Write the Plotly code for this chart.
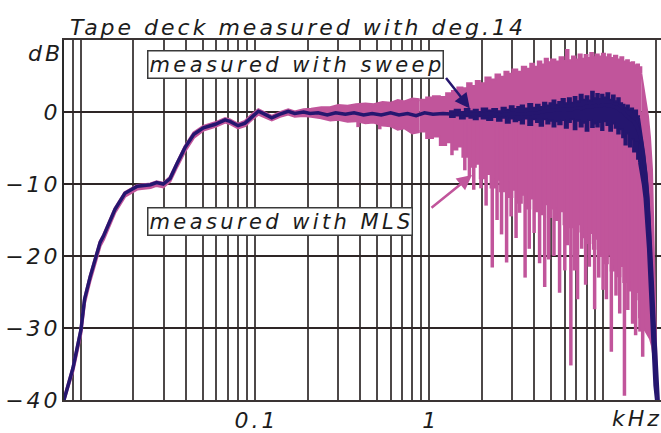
import math
import plotly.graph_objects as go

# Tape deck frequency response: sine sweep vs. MLS measurement (deg.14)

# --- sweep measurement, centre of the trace (kHz, dB) ---
sweep_khz = [
    0.008, 0.009, 0.010, 0.0105, 0.0113, 0.0129, 0.0135, 0.0157, 0.0179, 0.0211,
    0.0251, 0.0272, 0.0297, 0.0325, 0.0356, 0.0396, 0.0445, 0.0505, 0.0591, 0.0673,
    0.0717, 0.0799, 0.0876, 0.0958, 0.1045, 0.1113, 0.1247, 0.139, 0.155, 0.169,
    0.19, 0.207, 0.23, 0.26, 0.29, 0.33, 0.37, 0.42, 0.47, 0.53,
    0.60, 0.67, 0.75, 0.84, 0.94, 1.05, 1.2, 1.4, 1.6, 1.8,
    2.0, 2.3, 2.6, 3.0, 3.4, 3.8, 4.2, 4.6, 5.0, 5.5,
    6.0, 6.5, 7.0, 7.5, 8.0, 8.5, 9.0, 9.5, 10.0, 10.5,
    11.0, 11.5, 12.0, 12.5, 13.0, 13.5, 14.0, 14.5, 15.0, 15.5,
    16.0, 16.5, 17.0, 17.5, 18.0, 18.5, 19.0, 19.5, 20.0, 20.6,
]
sweep_db = [
    -40.0, -35.6, -30.3, -26.0, -22.9, -18.1, -17.2, -13.5, -11.3, -10.3,
    -10.1, -9.8, -10.0, -9.25, -7.2, -4.95, -3.1, -2.2, -1.7, -1.1,
    -1.3, -1.9, -1.55, -0.65, 0.1, -0.2, -0.8, -0.3, 0.1, -0.2,
    0.0, -0.2, -0.1, -0.4, -0.1, -0.3, -0.1, -0.4, -0.2, -0.4,
    -0.1, -0.4, -0.2, -0.5, -0.1, -0.3, -0.2, -0.3, -0.2, -0.3,
    -0.3, -0.2, -0.4, -0.2, -0.3, -0.2, -0.1, 0.1, 0.2, 0.3,
    0.4, 0.3, 0.6, 0.5, 0.8, 0.7, 0.9, 0.8, 1.0, 0.9,
    0.9, 0.7, 0.6, 0.2, 0.0, -0.5, -0.8, -1.0, -1.4, -2.0,
    -2.8, -4.0, -6.0, -8.5, -12.0, -17.0, -23.0, -29.0, -34.0, -40.0,
]

# --- spread of the sweep trace above 1 kHz (top / bottom, dB) ---
spread_khz = [
    1.3, 1.4, 1.5, 1.6, 1.7, 1.8, 1.9, 2.0, 2.15, 2.3,
    2.45, 2.6, 2.75, 2.9, 3.05, 3.2, 3.35, 3.5, 3.7, 3.9,
    4.1, 4.3, 4.5, 4.7, 4.9, 5.1, 5.3, 5.5, 5.75, 6.0,
    6.25, 6.5, 6.75, 7.0, 7.3, 7.6, 7.9, 8.2, 8.5, 8.8,
    9.1, 9.4, 9.7, 10.0, 10.4, 10.8, 11.2, 11.6, 12.0, 12.4,
    12.8, 13.2, 13.6, 14.0, 14.4, 14.8, 15.2, 15.6, 16.0, 16.4,
    16.8, 17.2, 17.6, 18.0, 18.4, 18.8, 19.2, 19.6, 20.0,
]
spread_top = [
    0.1, 0.3, 0.0, 0.4, 0.1, 0.3, 0.0, 0.5, 0.2, 0.4,
    0.1, 0.6, 0.3, 0.8, 0.4, 0.7, 0.9, 0.5, 1.1, 0.6,
    1.0, 0.7, 1.3, 0.9, 1.2, 1.6, 1.0, 1.4, 1.8, 1.2,
    1.9, 1.3, 2.1, 1.5, 2.4, 1.7, 2.2, 1.6, 2.8, 1.9,
    2.5, 1.8, 2.4, 2.0, 2.6, 1.7, 2.3, 1.5, 1.9, 1.2,
    1.0, 0.6, 0.9, 0.3, 0.5, 0.0, 0.2, -0.6, -0.8, -2.5,
    -4.0, -6.0, -8.5, -11.0, -15.0, -20.0, -26.0, -32.0, -38.0,
]
spread_bottom = [
    -0.7, -0.5, -0.9, -0.6, -0.8, -1.0, -0.6, -0.9, -1.1, -0.7,
    -1.2, -0.8, -1.5, -0.9, -1.3, -1.1, -1.6, -0.9, -1.8, -1.0,
    -1.4, -1.9, -1.0, -1.6, -1.2, -2.0, -1.3, -1.7, -1.1, -2.2,
    -1.4, -1.0, -2.4, -1.2, -2.0, -1.5, -2.6, -1.1, -2.1, -1.6,
    -2.0, -1.4, -2.5, -1.3, -1.8, -2.6, -1.6, -2.2, -3.0, -2.4,
    -3.5, -4.5, -3.0, -4.8, -3.8, -5.5, -4.2, -6.5, -7.0, -8.5,
    -10.0, -12.0, -15.0, -19.0, -24.0, -29.0, -34.0, -38.0, -40.0,
]

# --- MLS measurement: upper / lower envelope of the ragged trace ---
mls_khz = [
    0.008, 0.009, 0.010, 0.0105, 0.0113, 0.0129, 0.0135, 0.0157, 0.0179, 0.0211,
    0.0251, 0.0272, 0.0297, 0.0325, 0.0356, 0.0396, 0.0445, 0.0505, 0.0591, 0.0673,
    0.0717, 0.0799, 0.0876, 0.0958, 0.1045, 0.1113, 0.1247, 0.139, 0.155, 0.169,
    0.19, 0.21, 0.24, 0.27, 0.30, 0.34, 0.38, 0.43, 0.48, 0.54,
    0.60, 0.66, 0.72, 0.80, 0.88, 0.96, 1.05, 1.15, 1.25, 1.35,
    1.45, 1.55, 1.65, 1.75, 1.85, 1.95, 2.1, 2.25, 2.4, 2.55,
    2.7, 2.85, 3.0, 3.2, 3.4, 3.6, 3.8, 4.0, 4.2, 4.4,
    4.6, 4.8, 5.0, 5.3, 5.6, 5.9, 6.1, 6.3, 6.6, 6.9,
    7.2, 7.5, 7.8, 8.1, 8.4, 8.7, 9.0, 9.4, 9.8, 10.2,
    10.6, 11.0, 11.5, 12.0, 12.5, 13.0, 13.5, 14.0, 14.5, 15.0,
    15.5, 16.0, 16.5, 17.0, 17.5, 18.0, 18.5, 19.0, 19.5, 20.0,
    20.4,
]
mls_hi = [
    -39.8, -35.5, -30.2, -25.9, -22.8, -18.0, -17.1, -13.4, -11.2, -10.2,
    -10.0, -9.7, -9.9, -9.1, -7.1, -4.8, -2.9, -2.0, -1.5, -0.9,
    -1.1, -1.7, -1.3, -0.4, 0.3, 0.0, -0.6, -0.1, 0.3, 0.0,
    0.3, 0.4, 0.6, 0.6, 0.9, 0.8, 1.0, 1.1, 1.0, 1.3,
    1.2, 1.6, 1.4, 1.8, 1.7, 2.0, 2.2, 2.1, 2.6, 2.9,
    3.4, 3.3, 4.0, 3.6, 4.3, 4.0, 4.8, 4.5, 5.2, 4.9,
    5.6, 5.3, 5.9, 5.6, 6.3, 6.0, 6.7, 6.3, 7.0, 6.6,
    7.4, 6.9, 7.3, 7.0, 7.6, 7.1, 8.6, 7.2, 7.7, 7.3,
    8.0, 7.4, 7.9, 7.5, 8.2, 7.6, 8.0, 7.7, 8.1, 7.6,
    8.0, 7.5, 7.8, 7.3, 7.6, 7.0, 7.2, 6.8, 6.9, 6.5,
    6.6, 6.2, 5.3, 3.5, 1.5, -0.5, -3.5, -8.0, -20.0, -32.0,
    -40.0,
]
mls_lo = [
    -40.0, -36.0, -30.8, -26.5, -23.4, -18.6, -17.7, -13.9, -11.7, -10.7,
    -10.5, -10.2, -10.4, -9.6, -7.6, -5.4, -3.5, -2.5, -2.0, -1.4,
    -1.6, -2.2, -1.9, -1.0, -0.3, -0.6, -1.1, -0.6, -0.3, -0.6,
    -0.5, -0.6, -0.8, -1.1, -1.0, -1.3, -1.2, -1.5, -1.4, -1.8,
    -1.9, -2.4, -2.2, -2.9, -2.7, -3.6, -3.4, -4.6, -4.2, -5.2,
    -4.8, -6.2, -6.0, -7.6, -7.2, -9.2, -8.6, -10.5, -9.4, -11.0,
    -9.8, -11.8, -10.8, -12.6, -11.5, -13.4, -12.0, -13.8, -12.5, -14.2,
    -12.8, -14.6, -13.4, -15.0, -13.8, -15.6, -14.2, -16.0, -14.6, -16.6,
    -15.6, -17.4, -16.2, -18.2, -16.8, -19.0, -17.6, -20.0, -18.8, -21.0,
    -19.8, -22.0, -20.6, -22.8, -21.4, -23.6, -22.4, -24.8, -23.6, -26.0,
    -25.0, -28.5, -29.0, -30.0, -30.5, -31.0, -31.5, -32.5, -34.5, -37.5,
    -40.0,
]

# deep notches of the MLS trace (kHz, dB at the bottom of each notch)
dip_khz = [
    0.39, 0.52, 1.35, 1.60, 1.70, 1.80, 1.98, 2.12, 2.30, 2.45,
    2.60, 2.78, 2.95, 3.15, 3.30, 3.55, 3.75, 4.00, 4.30, 4.60,
    4.85, 5.20, 5.60, 6.00, 6.20, 6.50, 6.80, 7.10, 7.50, 7.90,
    8.30, 8.90, 9.40, 9.95, 10.4, 11.1, 11.8, 12.4, 13.2, 13.8,
    14.7, 15.3, 16.2, 16.8,
]
dip_db = [
    -2.1, -2.4, -6.0, -8.1, -9.0, -10.8, -10.6, -13.0, -21.6, -15.0,
    -17.0, -20.9, -14.5, -17.5, -14.0, -23.0, -19.0, -16.8, -21.0, -24.3,
    -20.5, -20.0, -25.1, -22.0, -18.5, -35.2, -22.0, -26.0, -19.0, -24.0,
    -21.5, -27.4, -23.0, -24.7, -26.0, -33.3, -25.5, -28.0, -39.4, -27.5,
    -29.4, -31.0, -30.5, -34.0,
]

# axis grid and labels
x_grid = [0.009, 0.01, 0.02, 0.03, 0.04, 0.05, 0.06, 0.07, 0.08, 0.09,
          0.1, 0.2, 0.3, 0.4, 0.5, 0.6, 0.7, 0.8, 0.9,
          1, 2, 3, 4, 5, 6, 7, 8, 9, 10, 20]
x_labels = {0.1: "0.1", 1: "1"}
y_ticks = [-40, -30, -20, -10, 0, 10]
y_labels = ["\u221240", "\u221230", "\u221220", "\u221210", "0", ""]

NAVY = "#25166f"
PINK = "#c1559b"
INK = "#1c1c1c"
FONT = "DejaVu Sans"


def spaced(s, px=3):
    # letter spacing between characters, none after the last one
    if len(s) < 2:
        return s
    return '<span style="letter-spacing:%spx">%s</span>%s' % (px, s[:-1], s[-1])


def add_band(fig, x, lo, hi, color, shape, width):
    # filled region between two edges
    fig.add_trace(go.Scatter(x=x, y=lo, mode="lines", line_shape=shape,
                             line=dict(color=color, width=width), hoverinfo="skip"))
    fig.add_trace(go.Scatter(x=x, y=hi, mode="lines", line_shape=shape,
                             fill="tonexty", fillcolor=color,
                             line=dict(color=color, width=width), hoverinfo="skip"))


fig = go.Figure()

# MLS band: smooth at low frequencies, ragged steps above ~0.9 kHz
a = mls_khz.index(0.88)
b = mls_khz.index(16.5)
add_band(fig, mls_khz[:a + 1], mls_lo[:a + 1], mls_hi[:a + 1], PINK, "linear", 3)
add_band(fig, mls_khz[a:b + 1], mls_lo[a:b + 1], mls_hi[a:b + 1], PINK, "hv", 2)
add_band(fig, mls_khz[b:], mls_lo[b:], mls_hi[b:], PINK, "linear", 2)

# MLS notches as vertical strokes
nx, ny = [], []
for f, d in zip(dip_khz, dip_db):
    nx += [f, f, None]
    ny += [0, d, None]
fig.add_trace(go.Scatter(x=nx, y=ny, mode="lines",
                         line=dict(color=PINK, width=3.5), hoverinfo="skip"))

# sweep trace: ragged spread at high frequencies, then the centre line
c = spread_khz.index(16.0)
add_band(fig, spread_khz[:c + 1], spread_bottom[:c + 1], spread_top[:c + 1],
         NAVY, "hv", 2)
add_band(fig, spread_khz[c:], spread_bottom[c:], spread_top[c:], NAVY, "linear", 2)
fig.add_trace(go.Scatter(x=sweep_khz, y=sweep_db, mode="lines",
                         line=dict(color=NAVY, width=3.5), hoverinfo="skip"))

tick_font = dict(family=FONT, size=22, color=INK, style="italic")
label_font = dict(family=FONT, size=21, color=INK, style="italic")

annotations = [
    dict(text=spaced("Tape deck measured with deg.14"), xref="paper", yref="paper",
         x=0.006, y=1.035, xanchor="left", yanchor="middle", showarrow=False,
         font=tick_font),
    dict(text=spaced("dB"), xref="paper", yref="paper", x=-0.003, y=0.962,
         xanchor="right", yanchor="middle", showarrow=False, font=tick_font),
    dict(text=spaced("kHz"), xref="paper", yref="paper", x=1.0, y=-0.012,
         xanchor="right", yanchor="top", showarrow=False, font=tick_font),
    # legend boxes
    dict(text=spaced("measured with sweep", 3.4), xref="paper", yref="paper",
         x=0.1385, y=0.931, xanchor="left", yanchor="middle", showarrow=False,
         font=label_font, bgcolor="white", bordercolor="#3a3a3a",
         borderwidth=1.5, borderpad=1),
    dict(text=spaced("measured with MLS", 3.4), xref="paper", yref="paper",
         x=0.1385, y=0.497, xanchor="left", yanchor="middle", showarrow=False,
         font=label_font, bgcolor="white", bordercolor="#3a3a3a",
         borderwidth=1.5, borderpad=1),
    # pointers from the boxes to the traces
    dict(text="", x=math.log10(1.71), y=0.5, xref="x", yref="y",
         ax=-25, ay=-32, showarrow=True, arrowhead=2, arrowsize=1.2,
         arrowwidth=2.5, arrowcolor=NAVY),
    dict(text="", x=math.log10(1.76), y=-8.75, xref="x", yref="y",
         ax=-42, ay=34, showarrow=True, arrowhead=2, arrowsize=1.2,
         arrowwidth=2.5, arrowcolor=PINK),
]

fig.update_layout(
    width=661, height=433,
    margin=dict(l=64, r=0, t=40, b=25),
    paper_bgcolor="white", plot_bgcolor="white",
    showlegend=False,
    annotations=annotations,
    xaxis=dict(
        type="log",
        range=[math.log10(0.008), math.log10(21.4)],
        tickvals=x_grid,
        ticktext=[spaced(x_labels[v]) if v in x_labels else "" for v in x_grid],
        tickfont=tick_font, ticks="",
        showgrid=True, gridcolor="#4d4848", gridwidth=1.6,
        showline=True, mirror=True, linecolor="#3a3434", linewidth=1.6,
        zeroline=False,
    ),
    yaxis=dict(
        range=[-40, 10],
        tickvals=y_ticks,
        ticktext=[spaced(t) for t in y_labels],
        tickfont=tick_font, ticks="",
        showgrid=True, gridcolor="#2e2626", gridwidth=1.8,
        showline=True, linecolor="#2a2a2a", linewidth=2,
        zeroline=False,
    ),
)

fig.write_html("out.html")
